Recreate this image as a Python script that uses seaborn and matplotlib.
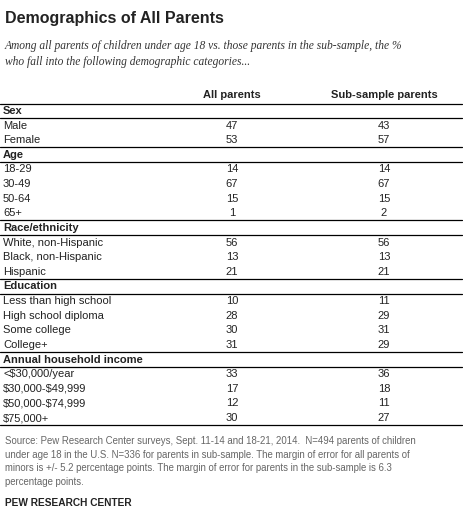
import matplotlib
matplotlib.use("Agg")
import matplotlib.pyplot as plt
import seaborn as sns

sns.set_theme(style="white")
plt.rcParams['font.family'] = ['Liberation Sans', 'DejaVu Sans']
plt.rcParams['text.parse_math'] = False

sections = ["Sex", "Age", "Race/ethnicity", "Education", "Annual household income"]
categories = [
    ["Male", "Female"],
    ["18-29", "30-49", "50-64", "65+"],
    ["White, non-Hispanic", "Black, non-Hispanic", "Hispanic"],
    ["Less than high school", "High school diploma", "Some college", "College+"],
    ["<$30,000/year", "$30,000-$49,999", "$50,000-$74,999", "$75,000+"],
]
all_parents = [[47, 53], [14, 67, 15, 1], [56, 13, 21], [10, 28, 30, 31], [33, 17, 12, 30]]
sub_sample = [[43, 57], [14, 67, 15, 2], [56, 13, 21], [11, 29, 31, 29], [36, 18, 11, 27]]
col_labels = ["All parents", "Sub-sample parents"]

W, H = 463, 515
fig = plt.figure(figsize=(W / 100, H / 100), dpi=100)
ax = fig.add_axes([0, 0, 1, 1])
ax.set_xlim(0, W)
ax.set_ylim(H, 0)
ax.axis("off")

dark = "#222222"
ax.text(5, 19, "Demographics of All Parents", fontsize=11.5, fontweight="bold", color=dark, va="center")
sub = ("Among all parents of children under age 18 vs. those parents in the sub-sample, the %\n"
       "who fall into the following demographic categories...")
ax.text(5, 54, sub, fontsize=8.3, style="italic", family="Liberation Serif", color="#333333",
        va="center", linespacing=1.45)

x1, x2 = 232, 384
ax.text(x1, 95, col_labels[0], fontsize=8, fontweight="bold", ha="center", va="center", color=dark)
ax.text(x2, 95, col_labels[1], fontsize=8, fontweight="bold", ha="center", va="center", color=dark)

step = 14.62
y = 111
fs = 8
for sec, cats, a, b in zip(sections, categories, all_parents, sub_sample):
    ax.plot([0, 462], [y - 7.5, y - 7.5], color="black", lw=0.9)
    ax.text(3, y, sec, fontsize=fs, fontweight="bold", va="center", color=dark)
    ax.plot([0, 462], [y + 7.3, y + 7.3], color="black", lw=0.9)
    y += step
    for c, va_, vb in zip(cats, a, b):
        ax.text(3, y, c, fontsize=fs, va="center", color=dark)
        ax.text(x1, y, str(va_), fontsize=fs, ha="center", va="center", color=dark)
        ax.text(x2, y, str(vb), fontsize=fs, ha="center", va="center", color=dark)
        y += step
ax.plot([0, 462], [y - 7.5, y - 7.5], color="black", lw=0.9)

src = ("Source: Pew Research Center surveys, Sept. 11-14 and 18-21, 2014.  N=494 parents of children\n"
       "under age 18 in the U.S. N=336 for parents in sub-sample. The margin of error for all parents of\n"
       "minors is +/- 5.2 percentage points. The margin of error for parents in the sub-sample is 6.3\n"
       "percentage points.")
ax.text(5, 436, src, fontsize=6.9, color="#666666", va="top", linespacing=1.45)
ax.text(5, 503, "PEW RESEARCH CENTER", fontsize=7.3, fontweight="bold", color="#222222", va="center")

fig.savefig("out.png", dpi=100)
